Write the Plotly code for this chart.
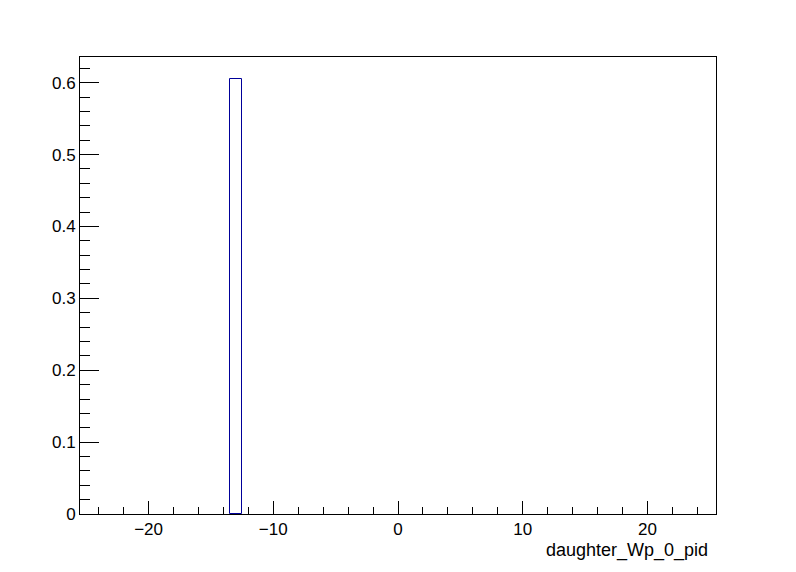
import plotly.graph_objects as go

# Bin centres (pid values) and normalised contents
bin_centers = [-25, -24, -23, -22, -21, -20, -19, -18, -17, -16, -15, -14, -13, -12, -11,
               -10, -9, -8, -7, -6, -5, -4, -3, -2, -1, 0, 1, 2, 3, 4, 5, 6, 7, 8, 9, 10,
               11, 12, 13, 14, 15, 16, 17, 18, 19, 20, 21, 22, 23, 24, 25]
bin_values = [0, 0, 0, 0, 0, 0, 0, 0, 0, 0, 0, 0, 0.6055, 0, 0,
              0, 0, 0, 0, 0, 0, 0, 0, 0, 0, 0, 0, 0, 0, 0, 0, 0, 0, 0, 0, 0,
              0, 0, 0, 0, 0, 0, 0, 0, 0, 0, 0, 0, 0, 0, 0]
x_title = "daughter_Wp_0_pid"
x_range = [-25.5, 25.5]
y_range = [0, 0.6358]

font_family = "Liberation Sans, Arial, Helvetica, sans-serif"

# only non-empty bins draw an outline (empty ones lie on the axis)
filled = [(c, v) for c, v in zip(bin_centers, bin_values) if v > 0]

fig = go.Figure()
fig.add_trace(go.Bar(
    x=[c for c, _ in filled], y=[v for _, v in filled], width=1,
    marker=dict(color="rgba(0,0,0,0)", line=dict(color="#000099", width=1)),
    showlegend=False, hoverinfo="x+y",
))

fig.update_layout(
    width=796, height=572,
    margin=dict(l=72, r=88, t=49, b=66),
    paper_bgcolor="white", plot_bgcolor="white",
    font=dict(family=font_family, size=17, color="black"),
    bargap=0,
    annotations=[dict(
        text=x_title, xref="paper", yref="paper", x=0.9906, y=0,
        xanchor="right", yanchor="top", yshift=-24, showarrow=False,
        font=dict(family=font_family, size=18, color="black"),
    )],
)
fig.update_xaxes(
    range=x_range, showgrid=False, zeroline=False,
    showline=True, linecolor="black", linewidth=1, mirror=True,
    ticks="inside", ticklen=13, tickcolor="black", tickwidth=1,
    tick0=0, dtick=10,
    minor=dict(ticks="inside", ticklen=7, dtick=2, tick0=0, tickcolor="black", showgrid=False),
    tickfont=dict(size=17),
)
fig.update_yaxes(
    range=y_range, showgrid=False, zeroline=False,
    showline=True, linecolor="black", linewidth=1, mirror=True,
    ticks="inside", ticklen=19, tickcolor="black", tickwidth=1,
    tick0=0, dtick=0.1,
    minor=dict(ticks="inside", ticklen=10, dtick=0.02, tick0=0, tickcolor="black", showgrid=False),
    tickfont=dict(size=17),
)

fig.write_html("out.html")
